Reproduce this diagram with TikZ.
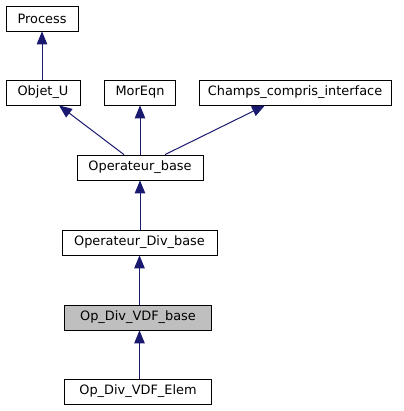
\documentclass[tikz,border=0pt]{standalone}
\usepackage{fontspec}
\setmainfont{DejaVu Sans}
\usetikzlibrary{arrows.meta}
\definecolor{edgeblue}{HTML}{191970}
\begin{document}
\begin{tikzpicture}[x=1pt,y=-1pt,
  cls/.style={draw=black,line width=0.8pt,fill=white,minimum height=25pt,inner sep=0pt,
    font=\fontsize{12.9}{14}\selectfont,anchor=center},
  cur/.style={cls,fill=black!25},
  edge/.style={draw=edgeblue,line width=1pt,-{Triangle[length=13pt,width=10.5pt]}}]
\useasboundingbox (0,0) rectangle (403,411);
\node[cls,minimum width=72pt] (process) at (42,18.5) {Process};
\node[cls,minimum width=74pt] (objetu) at (43,92.5) {Objet\_U};
\node[cls,minimum width=71pt] (moreqn) at (140,92.5) {MorEqn};
\node[cls,minimum width=192pt] (champs) at (295,92.5) {Champs\_compris\_interface};
\node[cls,minimum width=126pt] (opbase) at (140,167.5) {Operateur\_base};
\node[cls,minimum width=155pt] (opdiv) at (139.5,242.5) {Operateur\_Div\_base};
\node[cur,minimum width=147pt] (vdfbase) at (138,317.5) {Op\_Div\_VDF\_base};
\node[cls,minimum width=147pt] (vdfelem) at (138,391.5) {Op\_Div\_VDF\_Elem};
\draw[edge] (objetu.north -| process.south) -- (process.south);
\draw[edge] ([xshift=-16pt]opbase.north) -- ([xshift=16pt]objetu.south);
\draw[edge] (opbase.north) -- (moreqn.south);
\draw[edge] ([xshift=25pt]opbase.north) -- ([xshift=-30pt]champs.south);
\draw[edge] (opdiv.north -| opbase.south) -- (opbase.south);
\draw[edge] (vdfbase.north -| 139.5,0) -- (opdiv.south -| 139.5,0);
\draw[edge] (vdfelem.north -| 139.5,0) -- (vdfbase.south -| 139.5,0);
\end{tikzpicture}
\end{document}
